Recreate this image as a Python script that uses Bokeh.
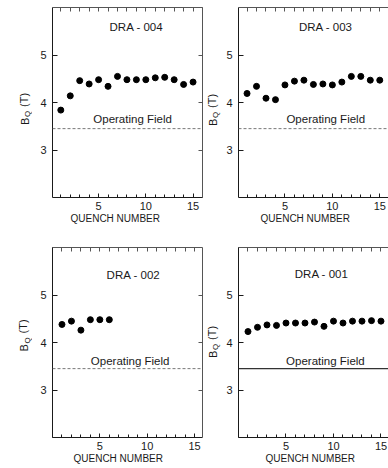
import math
from bokeh.plotting import figure
from bokeh.layouts import column, row
from bokeh.models import LinearAxis, FixedTicker, Span, Label, Range1d, Title
from bokeh.embed import file_html
from bokeh.resources import INLINE

# ---- data ----
quench_004 = list(range(1, 16))
field_004 = [3.84, 4.14, 4.46, 4.39, 4.48, 4.34, 4.55, 4.48, 4.48, 4.48, 4.52, 4.53, 4.48, 4.38, 4.43]

quench_003 = list(range(1, 16))
field_003 = [4.19, 4.34, 4.09, 4.06, 4.37, 4.45, 4.47, 4.38, 4.39, 4.37, 4.43, 4.55, 4.55, 4.47, 4.47]

quench_002 = list(range(1, 7))
field_002 = [4.38, 4.45, 4.26, 4.48, 4.48, 4.48]

quench_001 = list(range(1, 16))
field_001 = [4.23, 4.32, 4.37, 4.36, 4.41, 4.41, 4.41, 4.43, 4.34, 4.45, 4.41, 4.45, 4.45, 4.46, 4.45]

magnet_names = ["DRA - 004", "DRA - 003", "DRA - 002", "DRA - 001"]
operating_field = 3.45
operating_label = "Operating Field"
y_ticks = [3, 4, 5]
x_ticks = [5, 10, 15]
x_minor_ticks = list(range(0, 17))
x_axis_title = "QUENCH NUMBER"
y_title_main, y_title_sub, y_title_unit = "B", "Q", "(T)"

FONT = "Liberation Sans"
INK = "#1a1a1a"


def ticks_only_axis(ticks):
    a = LinearAxis(ticker=FixedTicker(ticks=ticks, minor_ticks=[]))
    a.major_tick_in = 4
    a.major_tick_out = 0
    a.minor_tick_in = 0
    a.minor_tick_out = 0
    a.major_label_standoff = 0
    a.major_label_text_font_size = "1px"
    a.major_label_text_color = None
    a.axis_line_color = "#555555"
    a.major_tick_line_color = "#555555"
    return a


def make_panel(name, quench, field, xr, frame_w, frame_h, bl, br, bt, bb,
               right_axis, solid_line, title_xy, oplab_xy, xlab_offset):
    p = figure(frame_width=frame_w, frame_height=frame_h,
               x_range=Range1d(*xr), y_range=Range1d(2.0, 6.0),
               output_backend="svg", toolbar_location=None,
               x_axis_location=None, y_axis_location=None,
               min_border_left=bl, min_border_right=br,
               min_border_top=bt, min_border_bottom=bb,
               background_fill_color="white", border_fill_color="white")
    p.outline_line_color = None
    p.xgrid.visible = False
    p.ygrid.visible = False

    ya = LinearAxis(ticker=FixedTicker(ticks=y_ticks, minor_ticks=[]))
    ya.major_tick_in = 5
    ya.major_tick_out = 0
    ya.minor_tick_in = 0
    ya.minor_tick_out = 0
    ya.major_label_standoff = 6
    ya.major_label_text_font = FONT
    ya.major_label_text_font_size = "11px"
    ya.major_label_text_color = INK
    ya.axis_line_color = INK
    ya.major_tick_line_color = INK
    p.add_layout(ya, "left")

    xa = LinearAxis(ticker=FixedTicker(ticks=x_ticks, minor_ticks=x_minor_ticks))
    xa.major_tick_in = 4
    xa.major_tick_out = 0
    xa.minor_tick_in = 3
    xa.minor_tick_out = 0
    xa.major_label_standoff = 4
    xa.major_label_text_font = FONT
    xa.major_label_text_font_size = "11px"
    xa.major_label_text_color = INK
    xa.axis_line_color = INK
    xa.major_tick_line_color = INK
    xa.minor_tick_line_color = INK
    p.add_layout(xa, "below")

    p.add_layout(Title(text=x_axis_title, align="left", offset=xlab_offset,
                       vertical_align="top", standoff=0,
                       text_font=FONT, text_font_size="10px",
                       text_font_style="normal", text_color=INK), "below")

    p.add_layout(ticks_only_axis(x_minor_ticks), "above")
    if right_axis:
        p.add_layout(ticks_only_axis(y_ticks), "right")

    if solid_line:
        span = Span(location=operating_field, dimension="width",
                    line_color="#333333", line_width=1.2)
    else:
        span = Span(location=operating_field, dimension="width",
                    line_color="#777777", line_width=1, line_dash="3 2")
    p.add_layout(span)

    p.scatter(quench, field, size=6, color="black")

    p.add_layout(Label(x=title_xy[0], y=title_xy[1], text=name,
                       text_align="center", text_baseline="middle",
                       text_font=FONT, text_font_size="11.5px", text_color=INK))
    p.add_layout(Label(x=oplab_xy[0], y=oplab_xy[1], text=operating_label,
                       text_align="center", text_baseline="middle",
                       text_font=FONT, text_font_size="11.5px", text_color=INK))
    return p


def y_title_strip(width, height, xc, yc):
    """Narrow figure holding the rotated B_Q (T) axis title; yc counted from the strip bottom."""
    s = figure(frame_width=width, frame_height=height,
               x_range=Range1d(0, 1), y_range=Range1d(0, 1),
               output_backend="svg", toolbar_location=None,
               x_axis_location=None, y_axis_location=None,
               min_border_left=0, min_border_right=0,
               min_border_top=0, min_border_bottom=0,
               background_fill_color="white", border_fill_color="white")
    s.outline_line_color = None
    s.xgrid.visible = False
    s.ygrid.visible = False
    common = dict(x_units="screen", y_units="screen", angle=math.pi / 2,
                  text_align="left", text_baseline="middle",
                  text_font=FONT, text_color=INK)
    s.add_layout(Label(x=xc, y=yc - 16, text=y_title_main, text_font_size="11px", **common))
    s.add_layout(Label(x=xc + 3.2, y=yc - 8, text=y_title_sub, text_font_size="8px", **common))
    s.add_layout(Label(x=xc - 1, y=yc + 2, text=y_title_unit, text_font_size="11px", **common))
    return s


ROW1_H, ROW2_H = 237, 231

# left panels: strip 32 + border 20 -> frame at x=52 ; right border 2 -> ends at 204
# right panels: strip 17 + border 17 -> frame at x=238
p1 = make_panel(magnet_names[0], quench_004, field_004, (0.12, 16.0), 150, 190,
                20, 2, 7, 40, True, False, (9.0, 5.6), (8.6, 3.66), 18)
p2 = make_panel(magnet_names[1], quench_003, field_003, (0.1, 15.92), 150, 190,
                17, 0, 7, 40, False, False, (9.3, 5.6), (9.3, 3.66), 22)
p3 = make_panel(magnet_names[2], quench_002, field_002, (0.0, 15.84), 150, 190,
                20, 2, 10, 31, True, False, (8.55, 5.43), (8.2, 3.62), 21)
p4 = make_panel(magnet_names[3], quench_001, field_001, (0.0, 15.79), 150, 190,
                17, 0, 10, 31, False, True, (8.75, 5.45), (9.15, 3.61), 27)

s1 = y_title_strip(32, ROW1_H, 24, ROW1_H - 101.5)
s2 = y_title_strip(17, ROW1_H, 8, ROW1_H - 102.5)
s3 = y_title_strip(32, ROW2_H, 23.5, 468 - 325)
s4 = y_title_strip(17, ROW2_H, 8, 468 - 331.5)

layout = column(row(s1, p1, s2, p2), row(s3, p3, s4, p4))

open("out.html", "w").write(file_html(layout, INLINE))
